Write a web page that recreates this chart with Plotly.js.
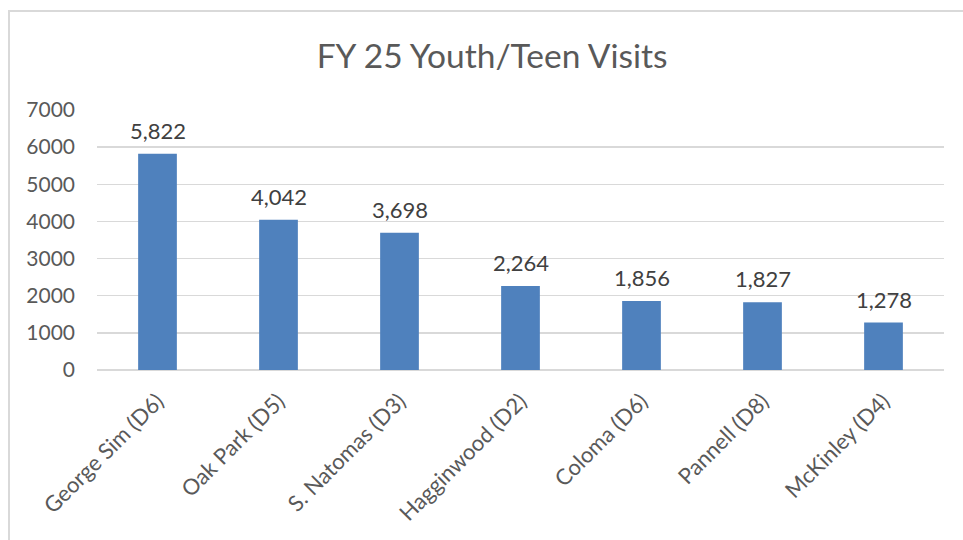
<!DOCTYPE html>
<html>
<head>
<meta charset="utf-8">
<script src="https://cdn.plot.ly/plotly-3.0.1.min.js"></script>
<style>
  html, body { margin: 0; padding: 0; background: #ffffff; }
  #frame { position: absolute; left: 8px; top: 10px; width: 960px; height: 540px;
           border-left: 2px solid #d9d9d9; border-top: 2px solid #d9d9d9; }
  #chart { position: absolute; left: 0; top: 0; width: 963px; height: 540px; }
</style>
</head>
<body>
<div id="frame"></div>
<div id="chart"></div>
<script>
const categories = ["George Sim (D6)", "Oak Park (D5)", "S. Natomas (D3)", "Hagginwood (D2)", "Coloma (D6)", "Pannell (D8)", "McKinley (D4)"];
const visits = [5822, 4042, 3698, 2264, 1856, 1827, 1278];
const yTicks = [0, 1000, 2000, 3000, 4000, 5000, 6000, 7000];
const chartTitle = "FY 25 Youth/Teen Visits";

const font = "Lato, sans-serif";

const trace = {
  type: "bar",
  x: categories,
  y: visits,
  marker: { color: "#4f81bd" },
  hoverinfo: "x+y"
};

const annotations = categories.map((c, i) => ({
  x: c, y: visits[i], xref: "x", yref: "y",
  text: visits[i].toLocaleString("en-US"),
  showarrow: false, yanchor: "bottom", yshift: 8,
  font: { family: font, size: 22, color: "#404040" }
}));

const layout = {
  width: 963, height: 540,
  paper_bgcolor: "rgba(0,0,0,0)",
  plot_bgcolor: "rgba(0,0,0,0)",
  margin: { l: 97, r: 19, t: 110, b: 170 },
  title: { text: chartTitle, x: 0.511, xanchor: "center", y: 0.895, yanchor: "middle",
           font: { family: font, size: 33.5, color: "#595959" } },
  bargap: 0.68,
  showlegend: false,
  xaxis: {
    type: "category",
    tickangle: -45,
    tickfont: { family: font, size: 22, color: "#595959" },
    showgrid: false, showline: false, ticks: "", zeroline: false,
    ticklabelstandoff: 13
  },
  yaxis: {
    range: [0, 7000],
    tickvals: yTicks,
    ticktext: yTicks.map(String),
    tickfont: { family: font, size: 21, color: "#595959" },
    showgrid: true, gridcolor: "#d9d9d9", gridwidth: 1.5,
    zeroline: true, zerolinecolor: "#d9d9d9", zerolinewidth: 1.5,
    ticks: "", ticklabelstandoff: 21, showline: false
  },
  annotations: annotations
};

Plotly.newPlot("chart", [trace], layout, { displayModeBar: false, staticPlot: true });
</script>
</body>
</html>
